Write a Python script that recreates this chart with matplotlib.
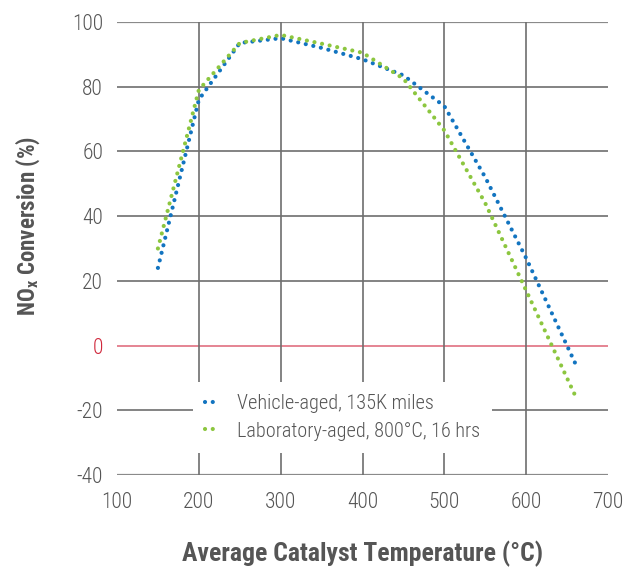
import matplotlib
matplotlib.use("Agg")
import matplotlib.pyplot as plt
from matplotlib import font_manager

temps = [150, 200, 250, 300, 350, 400, 450, 500, 550, 600, 660]
vehicle_aged = [24, 76, 93.5, 95, 92, 88.5, 83.5, 74, 52, 27, -5.5]
lab_aged = [30, 79, 93.5, 96, 93.3, 90.5, 82.5, 66.5, 44, 17, -15.5]
series_names = ["Vehicle-aged, 135K miles", "Laboratory-aged, 800\u00b0C, 16 hrs"]
x_ticks = [100, 200, 300, 400, 500, 600, 700]
y_ticks = [-40, -20, 0, 20, 40, 60, 80, 100]

names = {f.name for f in font_manager.fontManager.ttflist}
cands = ['Roboto Condensed', 'Liberation Sans Narrow', 'Archivo Narrow', 'PT Sans Narrow', 'DejaVu Sans']
fam = [c for c in cands if c in names] or ['DejaVu Sans']
plt.rcParams['font.family'] = [fam[0], 'DejaVu Sans']
plt.rcParams['axes.unicode_minus'] = False

TXT = '#555555'
GRID = '#6e6e6e'
BLUE = '#1274c0'
GREEN = '#8cc63f'
RED = '#e07080'

fig = plt.figure(figsize=(6.31, 5.67), dpi=100)
ax = fig.add_axes([117/631, 1-475/567, 491/631, 453/567])
ax.set_xlim(100, 700)
ax.set_ylim(-40, 100)
ax.set_xticks(x_ticks)
ax.set_yticks(y_ticks)
for s in ax.spines.values():
    s.set_visible(False)
ax.tick_params(length=0, labelsize=15.5, labelcolor=TXT, pad=10)
ax.tick_params(axis='x', pad=12)
for lbl in ax.get_xticklabels() + ax.get_yticklabels():
    lbl.set_fontweight('light')
for lbl, v in zip(ax.get_yticklabels(), y_ticks):
    if v == 0:
        lbl.set_color('#d0283c')

for v in y_ticks:
    if v == 0:
        ax.axhline(v, color=RED, lw=1.2, zorder=1)
    else:
        ax.axhline(v, color=GRID if v not in (100, -40) else '#8a8a8a', lw=1.2 if v not in (100, -40) else 1.6, zorder=1)
for v in x_ticks[1:-1]:
    ax.axvline(v, color=GRID, lw=1.2, zorder=1)

kw = dict(lw=3.0, linestyle=(0, (0.01, 1.85)), dash_capstyle='round', zorder=3)
ax.plot(temps, vehicle_aged, color=BLUE, label=series_names[0], **kw)
ax.plot(temps, lab_aged, color=GREEN, label=series_names[1], **kw)

leg = ax.legend(loc='upper left', bbox_to_anchor=(0.134, 0.227), frameon=True,
                fancybox=False, edgecolor='none', facecolor='white', framealpha=1,
                prop={'size': 14.6, 'weight': 'light'}, handlelength=0.75, handletextpad=0.8,
                labelspacing=0.4, borderpad=0.6, labelcolor=TXT)
leg.set_zorder(5)

ax.set_xlabel("Average Catalyst Temperature (\u00b0C)", fontsize=18.5, fontweight='bold', color=TXT, labelpad=20)
ax.set_ylabel("NO$_\\mathregular{x}$ Conversion (%)", fontsize=16.5, fontweight='bold', color=TXT)
ax.yaxis.set_label_coords(-0.152, 0.55)

fig.savefig("out.png", dpi=100)
